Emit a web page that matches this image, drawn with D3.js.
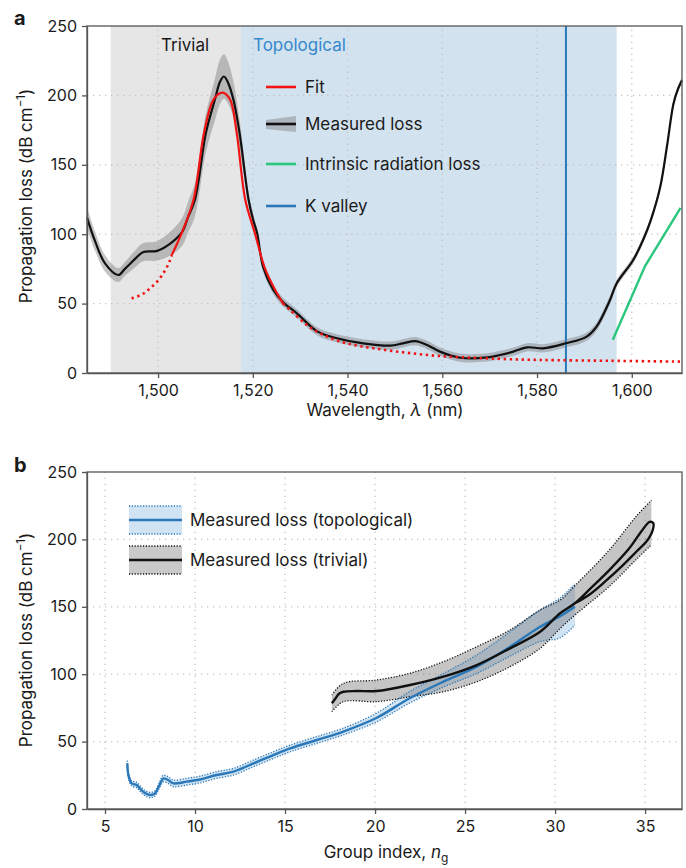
<!DOCTYPE html>
<html><head><meta charset="utf-8">
<script src="https://cdn.jsdelivr.net/npm/d3@7"></script>
<style>
body{margin:0;background:#fff}
svg{display:block}
text{font-family:Inter,"Noto Sans",sans-serif;fill:#1a1a1a}
</style></head>
<body><svg id="chart" width="686" height="868"></svg>
<script>
// ---------------- Panel a data ----------------
const waveTicks = [1500, 1520, 1540, 1560, 1580, 1600];
const lossTicks = [0, 50, 100, 150, 200, 250];
const trivialRange = [1490.0, 1517.5];
const topoRange = [1517.5, 1596.8];
const kValley = 1586.1;

const measWave = [1485,1486.7,1488.8,1491.6,1493,1495.1,1496.8,1499.8,1502.5,1505.1,1506.3,1507.8,1510.1,1512,1513.1,1513.9,1514.8,1515.9,1517.2,1519.1,1520.1,1520.9,1522.2,1524.3,1526.4,1529.3,1533.6,1537.8,1543.3,1549,1551.7,1554.3,1556.8,1559.5,1563.8,1569.5,1572.2,1575,1577.9,1581.3,1586.1,1590.4,1592.5,1595.4,1596.8,1600.3,1602.4,1604,1606,1607.5,1608.8,1609.8,1610.6];
const measLoss = [112,95,79,70.6,75,82,87,88,93,101.6,112,125,173,197,210,213.6,209,197,173,125,110,101,76,60,51,43,30,25,21.4,19.7,21.4,23,20.2,15.4,11,11.2,13,15.4,18.5,17.8,21.4,26,33,52.6,64.5,81.4,96,110,134,165,194,205,211];
const measErr = [8,7,6,5,5,6,6.5,7,8.5,10,11,12,14,15,16,16,15,13,10,5,4,3,3,3,3,3,3,3,3,3,3,3,3,3,3,3,3,3,3,3,3,3,3,3,2.5,2.5,2.5,2.5,2.5,2.5,2.5,2.5,2.5];

const fitWave = [1494.4,1496.6,1498.3,1500.1,1501.5,1502.5,1502.9,1505,1507.5,1509.7,1511.7,1513.6,1515.2,1516.6,1518.4,1520.5,1522.5,1524.7,1526.4,1527.9,1531.4,1534.9,1539.8,1545.5,1552.5,1559.5,1566.5,1573.6,1580.7,1595,1610.6];
const fitLoss = [53.8,56.6,61,67,74,81,85,101,125,173,197,202,197,173,125,100,76,60,50,45.4,34.6,27.4,21.4,17.8,14.6,12.2,11,10,9.4,8.8,8.2];
const fitSolidRange = [1502.9, 1526.4];

const radWave = [1596.0, 1602.8, 1610.3];
const radLoss = [24, 77, 119];

const legendA = ["Fit", "Measured loss", "Intrinsic radiation loss", "K valley"];

// ---------------- Panel b data ----------------
const ngTicks = [5, 10, 15, 20, 25, 30, 35];

const topoNg = [6.24,6.3,6.48,6.76,6.94,7.2,7.5,7.78,8.0,8.24,8.5,8.8,9.54,10.28,11.2,12.13,13.24,14.35,15.28,16.76,18.2,20.07,21.9,23.8,25.65,27.5,29.17,30.28,31.1];
const topoLoss = [33.9,25.2,19,17.8,15.2,12,10.4,11.6,17,22.6,21.5,19,20.3,21.9,25.2,27.7,33.8,40,44.9,51.2,57.3,67.5,82,94.5,105.6,120.4,135.2,143,150];
const topoUp = [2,2,2,2,2,2,2,2,2,2.5,2.5,2.5,2.5,2.5,2.5,2.5,2.5,2.5,2.5,2.5,2.5,3.5,5,6,8.7,11,12.5,13.6,17];
const topoDown = [2,2,2,2,2,2,2,2,2,2.5,2.5,2.5,2.5,2.5,2.5,2.5,2.5,2.5,2.5,2.5,2.5,3,3.5,4,5,7,11,16,13.5];

const trivNg = [17.6,17.8,18.0,18.24,19.0,20.09,21.94,23.8,25.65,27.5,29.17,30.28,31.1,32.0,33.0,34.1,34.8,35.25,35.45,35.4,35.05,34.6,33.7,32.8,31.9,31.1];
const trivLoss = [78.4,82,85.5,87,87.5,87.5,92,98.2,106.8,119.2,131.5,145.2,152.6,164,177,193,206,213,212,206,198,192,180,169,159,152.6];

const trivBandNg = [17.6,18.24,20.09,21.94,23.8,25.65,27.5,29.17,30.28,31.2,33.0,34.5,35.35];
const trivBandUp = [84.6,93.2,95.7,100.7,109.3,120.4,132.8,147.6,155,167,192,217,229];
const trivBandLo = [72.2,79.6,79.6,83.3,87,94.4,105.6,119.2,134,145,165,185,196];

const legendB = ["Measured loss (topological)", "Measured loss (trivial)"];

// ---------------- styles ----------------
const C = {
  axis: "#555", grid: "#c4c4c4", trivialBg: "#e6e6e6", topoBg: "#d3e2ef",
  black: "#111", red: "#f01414", green: "#2bc77c", blue: "#2a78b8",
  topoText: "#3488cc", topoBand: "#d0e3f3", grayBand: "rgba(110,110,110,0.40)"
};
const FS = 17;

const svg = d3.select("#chart");

function grid(g, x, y, xt, yt) {
  const [x0, x1] = x.range(), [y0, y1] = y.range();
  const gg = g.append("g");
  gg.selectAll(".gx").data(xt).join("line")
    .attr("x1", d => x(d)).attr("x2", d => x(d)).attr("y1", y0).attr("y2", y1)
    .attr("stroke", C.grid).attr("stroke-width", 1.3).attr("stroke-dasharray", "1.3,4.7");
  gg.selectAll(".gy").data(yt.filter(v => v > 0 && v < 250)).join("line")
    .attr("y1", d => y(d)).attr("y2", d => y(d)).attr("x1", x0).attr("x2", x1)
    .attr("stroke", C.grid).attr("stroke-width", 1.3).attr("stroke-dasharray", "1.3,4.7");
}

function drawAxes(g, x, y, xt, yt, fmt) {
  const [x0, x1] = x.range(), [y0, y1] = y.range();
  g.append("rect").attr("x", x0).attr("y", y1).attr("width", x1 - x0).attr("height", y0 - y1)
    .attr("fill", "none").attr("stroke", C.axis).attr("stroke-width", 1.3);
  const ax = g.append("g").attr("transform", `translate(0,${y0})`)
    .call(d3.axisBottom(x).tickValues(xt).tickFormat(fmt).tickSize(5).tickPadding(7).tickSizeOuter(0));
  const ay = g.append("g").attr("transform", `translate(${x0},0)`)
    .call(d3.axisLeft(y).tickValues(yt).tickSize(5).tickPadding(5).tickSizeOuter(0));
  [ax, ay].forEach(a => {
    a.select(".domain").attr("stroke", C.axis).attr("stroke-width", 1.3);
    a.selectAll(".tick line").attr("stroke", C.axis).attr("stroke-width", 1.3);
    a.selectAll(".tick text").attr("font-size", 16).attr("font-family", "Inter,'Noto Sans',sans-serif").attr("fill", "#1a1a1a");
  });
}

function yLabel(g, cx, cy) {
  const t = g.append("text").attr("transform", `translate(${cx},${cy}) rotate(-90)`)
    .attr("text-anchor", "middle").attr("font-size", FS);
  t.append("tspan").text("Propagation loss (dB cm");
  t.append("tspan").attr("dy", -7).attr("font-size", 11.5).text("−1");
  t.append("tspan").attr("dy", 7).text(")");
}

// ================= PANEL A =================
const xA = d3.scaleLinear([1485, 1610.6], [87, 682]);
const yA = d3.scaleLinear([0, 250], [373, 26]);
const gA = svg.append("g");

gA.append("rect").attr("x", xA(trivialRange[0])).attr("width", xA(trivialRange[1]) - xA(trivialRange[0]))
  .attr("y", yA(250)).attr("height", yA(0) - yA(250)).attr("fill", C.trivialBg);
gA.append("rect").attr("x", xA(topoRange[0])).attr("width", xA(topoRange[1]) - xA(topoRange[0]))
  .attr("y", yA(250)).attr("height", yA(0) - yA(250)).attr("fill", C.topoBg);

grid(gA, xA, yA, waveTicks, lossTicks);

gA.append("text").attr("x", 161).attr("y", 51).attr("font-size", FS).text("Trivial");
gA.append("text").attr("x", 253).attr("y", 51).attr("font-size", FS).style("fill", C.topoText).text("Topological");

const measPts = measWave.map((w, i) => ({x: w, y: measLoss[i], e: measErr[i]}));
gA.append("path").datum(measPts)
  .attr("d", d3.area().x(d => xA(d.x)).y0(d => yA(d.y - d.e)).y1(d => yA(d.y + d.e)).curve(d3.curveCatmullRom))
  .attr("fill", "rgba(120,120,120,0.42)");

gA.append("line").attr("x1", xA(kValley)).attr("x2", xA(kValley)).attr("y1", yA(0)).attr("y2", yA(250))
  .attr("stroke", C.blue).attr("stroke-width", 2);

gA.append("path").datum(measPts)
  .attr("d", d3.line().x(d => xA(d.x)).y(d => yA(d.y)).curve(d3.curveCatmullRom))
  .attr("fill", "none").attr("stroke", C.black).attr("stroke-width", 2.2);

const fitPts = fitWave.map((w, i) => ({x: w, y: fitLoss[i]}));
const fitLine = d3.line().x(d => xA(d.x)).y(d => yA(d.y)).curve(d3.curveCatmullRom);
gA.append("path").datum(fitPts.filter(d => d.x <= fitSolidRange[0]))
  .attr("d", fitLine).attr("fill", "none").attr("stroke", C.red).attr("stroke-width", 2.6).attr("stroke-dasharray", "2.4,3.6");
gA.append("path").datum(fitPts.filter(d => d.x >= fitSolidRange[1]))
  .attr("d", fitLine).attr("fill", "none").attr("stroke", C.red).attr("stroke-width", 2.6).attr("stroke-dasharray", "2.4,3.6");
gA.append("path").datum(fitPts.filter(d => d.x >= fitSolidRange[0] && d.x <= fitSolidRange[1]))
  .attr("d", fitLine).attr("fill", "none").attr("stroke", C.red).attr("stroke-width", 2.2);

gA.append("path").datum(radWave.map((w, i) => ({x: w, y: radLoss[i]})))
  .attr("d", d3.line().x(d => xA(d.x)).y(d => yA(d.y)))
  .attr("fill", "none").attr("stroke", C.green).attr("stroke-width", 2.4);

drawAxes(gA, xA, yA, waveTicks, lossTicks, d3.format(","));

// legend a
const legY = [87, 124, 164, 206];
const legCol = [C.red, C.black, C.green, C.blue];
const lg = gA.append("g");
lg.append("path").attr("d", "M266,120 L296,116 L296,132 L266,129 Z").attr("fill", "rgba(120,120,120,0.42)");
legendA.forEach((t, i) => {
  lg.append("line").attr("x1", 266).attr("x2", 296).attr("y1", legY[i]).attr("y2", legY[i])
    .attr("stroke", legCol[i]).attr("stroke-width", 2.6);
  lg.append("text").attr("x", 305).attr("y", legY[i]).attr("dy", "0.35em").attr("font-size", FS).text(t);
});

const xtA = gA.append("text").attr("x", 385).attr("y", 416).attr("text-anchor", "middle").attr("font-size", FS);
xtA.append("tspan").text("Wavelength, ");
xtA.append("tspan").attr("font-style", "italic").text("λ");
xtA.append("tspan").text(" (nm)");
yLabel(gA, 32, 196);
gA.append("text").attr("x", 14).attr("y", 25).attr("font-size", 20).attr("font-weight", 700).text("a");

// ================= PANEL B =================
const xB = d3.scaleLinear([4, 37.05], [87, 682]);
const yB = d3.scaleLinear([0, 250], [809, 472]);
const gB = svg.append("g");

grid(gB, xB, yB, ngTicks, lossTicks);

const topoPts = topoNg.map((n, i) => ({x: n, y: topoLoss[i], u: topoUp[i], d: topoDown[i]}));
gB.append("path").datum(topoPts)
  .attr("d", d3.area().x(d => xB(d.x)).y0(d => yB(d.y - d.d)).y1(d => yB(d.y + d.u)).curve(d3.curveCatmullRom))
  .attr("fill", C.topoBand);

const trivBand = trivBandNg.map((n, i) => ({x: n, u: trivBandUp[i], l: trivBandLo[i]}));
gB.append("path").datum(trivBand)
  .attr("d", d3.area().x(d => xB(d.x)).y0(d => yB(d.l)).y1(d => yB(d.u)).curve(d3.curveCatmullRom))
  .attr("fill", C.grayBand);

// band edges
[["u", 1], ["d", -1]].forEach(([k, s]) => {
  gB.append("path").datum(topoPts)
    .attr("d", d3.line().x(d => xB(d.x)).y(d => yB(d.y + s * d[k])).curve(d3.curveCatmullRom))
    .attr("fill", "none").attr("stroke", C.blue).attr("stroke-width", 1.3).attr("stroke-dasharray", "1.2,1.6");
});
["u", "l"].forEach(k => {
  gB.append("path").datum(trivBand)
    .attr("d", d3.line().x(d => xB(d.x)).y(d => yB(d[k])).curve(d3.curveCatmullRom))
    .attr("fill", "none").attr("stroke", C.black).attr("stroke-width", 1.3).attr("stroke-dasharray", "1.2,1.6");
});

gB.append("path").datum(topoPts)
  .attr("d", d3.line().x(d => xB(d.x)).y(d => yB(d.y)).curve(d3.curveCatmullRom))
  .attr("fill", "none").attr("stroke", C.blue).attr("stroke-width", 2.4);

gB.append("path").datum(trivNg.map((n, i) => ({x: n, y: trivLoss[i]})))
  .attr("d", d3.line().x(d => xB(d.x)).y(d => yB(d.y)).curve(d3.curveCatmullRom))
  .attr("fill", "none").attr("stroke", C.black).attr("stroke-width", 2.4).attr("stroke-linejoin", "round");

drawAxes(gB, xB, yB, ngTicks, lossTicks, d3.format("d"));

// legend b
const lbY = [520, 560];
const lbFill = [C.topoBand, "#c9c9c9"];
const lbLine = [C.blue, C.black];
legendB.forEach((t, i) => {
  const y = lbY[i];
  gB.append("rect").attr("x", 129).attr("y", y - 14).attr("width", 53).attr("height", 28).attr("fill", lbFill[i]);
  [-14, 14].forEach(o => gB.append("line").attr("x1", 129).attr("x2", 182).attr("y1", y + o).attr("y2", y + o)
    .attr("stroke", lbLine[i]).attr("stroke-width", 1.3).attr("stroke-dasharray", "1.2,1.6"));
  gB.append("line").attr("x1", 129).attr("x2", 182).attr("y1", y).attr("y2", y)
    .attr("stroke", lbLine[i]).attr("stroke-width", 2.4);
  gB.append("text").attr("x", 190).attr("y", y).attr("dy", "0.35em").attr("font-size", FS).text(t);
});

const xtB = gB.append("text").attr("x", 386).attr("y", 858).attr("text-anchor", "middle").attr("font-size", FS);
xtB.append("tspan").text("Group index, ");
xtB.append("tspan").attr("font-style", "italic").text("n");
xtB.append("tspan").attr("font-size", 12).attr("dy", 4).text("g");
yLabel(gB, 32, 640);
gB.append("text").attr("x", 14).attr("y", 472).attr("font-size", 20).attr("font-weight", 700).text("b");
</script></body></html>
